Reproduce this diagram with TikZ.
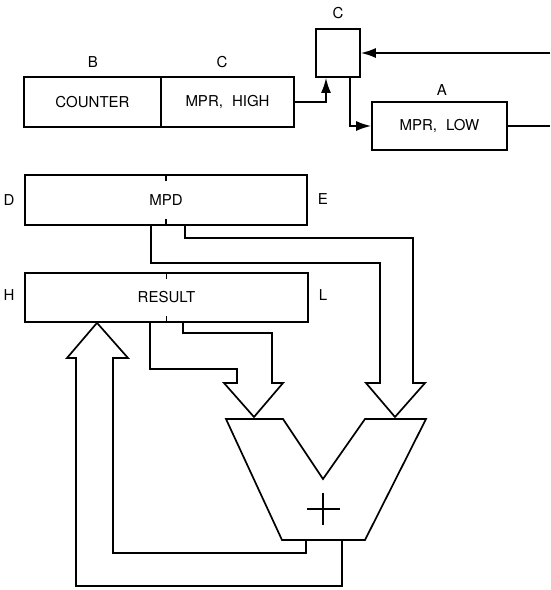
\documentclass[tikz,border=0pt]{standalone}
\usepackage{fontspec}
\setmainfont{TeX Gyre Heros}
\usetikzlibrary{arrows.meta,calc}
\begin{document}
\begin{tikzpicture}[x=1pt,y=-1pt,line width=1.7pt,line join=miter,
  box/.style={draw,rectangle,inner sep=0pt,font=\fontsize{15}{17}\selectfont},
  lbl/.style={inner sep=0pt,font=\fontsize{15}{17}\selectfont},
  arr/.style={-{Latex[length=15pt,width=10pt]}},
  wide/.style={draw,line width=1.7pt}]
\useasboundingbox (0,0) rectangle (550,590);
% top registers
\node[box,minimum width=137pt,minimum height=50pt] (counter) at (92.5,102) {COUNTER};
\node[box,minimum width=133pt,minimum height=50pt] (mprhigh) at (227.5,102) {MPR,\hspace{9pt}HIGH};
\node[box,minimum width=44pt,minimum height=48pt] (cbox) at (338,53) {};
\node[box,minimum width=135pt,minimum height=48pt] (mprlow) at (439.5,126) {MPR,\hspace{9pt}LOW};
\node[lbl] (lb) at (93,62) {B};
\node[lbl] (lc1) at (222,62) {C};
\node[lbl] (lc2) at (338,13) {C};
\node[lbl] (la) at (442,90) {A};
\coordinate (inR) at (550,53);
\coordinate (outR) at (550,126);
\draw[arr] (inR) -- (cbox.east);
\draw[arr] (mprhigh.east) -| ([xshift=-12pt]cbox.south);
\draw[arr] ([xshift=12pt]cbox.south) |- (mprlow.west);
\draw (mprlow.east) -- (outR);
% MPD and RESULT
\node[box,minimum width=282pt,minimum height=50pt] (mpd) at (166,200) {MPD};
\node[box,minimum width=283pt,minimum height=49pt] (result) at (166.5,297.5) {RESULT};
\node[lbl] (ld) at (9,200) {D};
\node[lbl] (le) at (323,199) {E};
\node[lbl] (lh) at (9,295) {H};
\node[lbl] (ll) at (323,295) {L};
\draw[line width=1.2pt] (mpd.north) -- ++(0,7);
\draw[line width=1.2pt] (mpd.south) -- ++(0,-7);
\draw[line width=1.2pt] (result.north) -- ++(0,7);
\draw[line width=1.2pt] (result.south) -- ++(0,-7);
% adder
\draw (226,419) -- (283,419) -- (323,479) -- (365,419) -- (426,419) -- (365,540) -- (282,540) -- cycle;
\coordinate (plus) at (323,509);
\draw ([xshift=-16pt]plus) -- ([xshift=17pt]plus);
\draw ([yshift=-16pt]plus) -- ([yshift=16pt]plus);
% wide arrow RESULT -> left input
\draw (result.south -| 150,0) -- (150,369) -- (237,369) -- (237,383) -- (224,383) -- (254,417) -- (283,383) -- (272,383) -- (272,333) -- (183,333) -- (result.south -| 183,0);
% wide arrow MPD -> right input
\draw (mpd.south -| 151,0) -- (151,263) -- (380,263) -- (380,383) -- (366,383) -- (395,417) -- (425,383) -- (413,383) -- (413,238) -- (185,238) -- (mpd.south -| 185,0);
% feedback wide arrow adder -> RESULT
\draw (306,540) -- (306,553) -- (113,553) -- (113,358) -- (128,358) -- (result.south -| 97,0) -- (67,358) -- (76,358) -- (76,586) -- (342,586) -- (342,540);
\end{tikzpicture}
\end{document}
